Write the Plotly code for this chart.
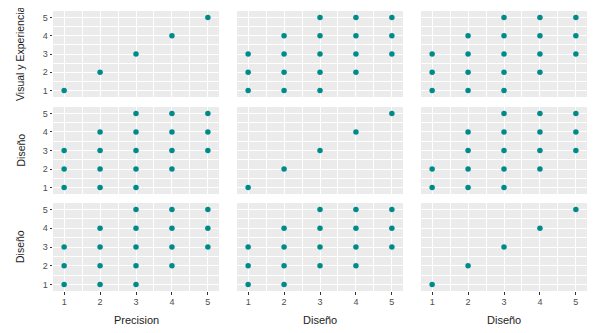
import plotly.graph_objects as go

# Data: each panel lists (x, y) pairs
diag_x = [1, 2, 3, 4, 5]
diag_y = [1, 2, 3, 4, 5]

std_x = [1, 1, 1, 2, 2, 2, 2, 3, 3, 3, 3, 3, 4, 4, 4, 4, 5, 5, 5]
std_y = [1, 2, 3, 1, 2, 3, 4, 1, 2, 3, 4, 5, 2, 3, 4, 5, 3, 4, 5]

r2c3_x = [1, 1, 2, 2, 2, 2, 3, 3, 3, 3, 3, 4, 4, 4, 4, 5, 5, 5]
r2c3_y = [1, 2, 1, 2, 3, 4, 1, 2, 3, 4, 5, 2, 3, 4, 5, 3, 4, 5]

r3c2_x = [1, 1, 1, 2, 2, 2, 2, 3, 3, 3, 3, 4, 4, 4, 4, 5, 5, 5]
r3c2_y = [1, 2, 3, 1, 2, 3, 4, 2, 3, 4, 5, 2, 3, 4, 5, 3, 4, 5]

panels = [
    [(diag_x, diag_y), (std_x, std_y), (std_x, std_y)],
    [(std_x, std_y), (diag_x, diag_y), (r2c3_x, r2c3_y)],
    [(std_x, std_y), (r3c2_x, r3c2_y), (diag_x, diag_y)],
]
row_titles = ["Visual y Experiencia", "Diseño", "Diseño"]
col_titles = ["Precision", "Diseño", "Diseño"]
tick_vals = [1, 2, 3, 4, 5]
tick_text = ["1", "2", "3", "4", "5"]

# page body has an 8px margin; figure sized to fit inside the window
OFF = 8
W, H = 592, 325
col_px = [(53, 219), (237, 403), (421, 587)]
row_px = [(11, 97), (107, 194), (203, 291)]

def fx(px):
    return (px - OFF) / W

def fy(py):
    return 1 - (py - OFF) / H

fig = go.Figure()
layout = {}
for r in range(3):
    for c in range(3):
        idx = r * 3 + c + 1
        xs, ys = panels[r][c]
        xa = "x" if idx == 1 else f"x{idx}"
        ya = "y" if idx == 1 else f"y{idx}"
        fig.add_trace(go.Scatter(
            x=xs, y=ys, mode="markers", xaxis=xa, yaxis=ya,
            marker=dict(color="#008B8B", size=5.5, line=dict(width=0)),
            showlegend=False, hoverinfo="x+y"))
        x0, x1 = col_px[c]
        y0, y1 = row_px[r]
        common = dict(
            showline=False, zeroline=False, showgrid=True,
            gridcolor="white", gridwidth=1.1,
            minor=dict(showgrid=True, gridcolor="white", gridwidth=0.5, dtick=0.5, tick0=0.5),
            tickmode="array", tickvals=tick_vals, ticktext=tick_text,
            ticklen=2.5, tickcolor="#333333", tickwidth=0.8,
            tickfont=dict(family="Liberation Sans, Arial", size=9, color="#4D4D4D"),
            fixedrange=True,
        )
        layout["xaxis" if idx == 1 else f"xaxis{idx}"] = dict(
            common, domain=[fx(x0), fx(x1)], range=[0.69, 5.31], anchor=ya,
            showticklabels=(r == 2), ticks="outside" if r == 2 else "")
        layout["yaxis" if idx == 1 else f"yaxis{idx}"] = dict(
            common, domain=[fy(y1), fy(y0)], range=[0.65, 5.35], anchor=xa,
            showticklabels=(c == 0), ticks="outside" if c == 0 else "")
        fig.add_shape(type="rect", xref="paper", yref="paper", layer="below",
                      x0=fx(x0), x1=fx(x1), y0=fy(y1), y1=fy(y0),
                      fillcolor="#EBEBEB", line=dict(width=0))

annotations = []
for r, t in enumerate(row_titles):
    y0, y1 = row_px[r]
    annotations.append(dict(text=t, xref="paper", yref="paper", x=fx(20), y=fy((y0 + y1) / 2),
                            textangle=-90, showarrow=False, xanchor="center", yanchor="middle",
                            font=dict(family="Liberation Sans, Arial", size=10.5, color="#222222")))
for c, t in enumerate(col_titles):
    x0, x1 = col_px[c]
    annotations.append(dict(text=t, xref="paper", yref="paper", x=fx((x0 + x1) / 2), y=fy(320),
                            showarrow=False, xanchor="center", yanchor="middle",
                            font=dict(family="Liberation Sans, Arial", size=11, color="#222222")))

fig.update_layout(
    width=W, height=H, margin=dict(l=0, r=0, t=0, b=0),
    paper_bgcolor="white", plot_bgcolor="rgba(0,0,0,0)",
    annotations=annotations, **layout)

fig.write_html("out.html")
